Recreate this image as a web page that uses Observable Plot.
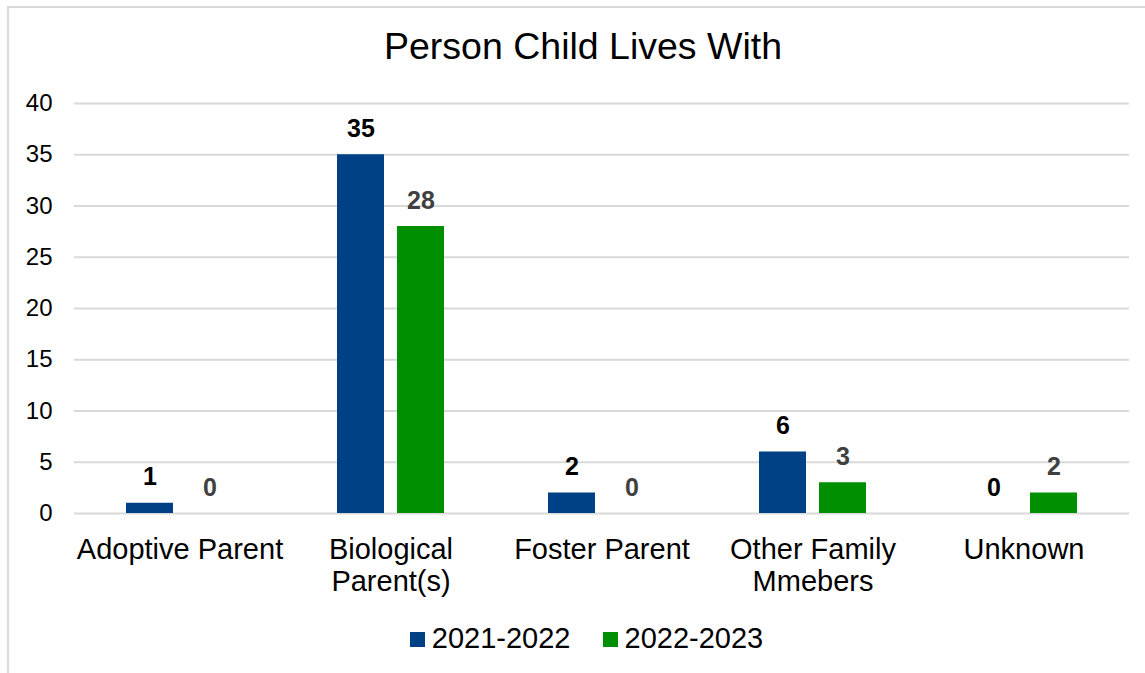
<!DOCTYPE html>
<html>
<head>
<meta charset="utf-8">
<script src="https://cdn.jsdelivr.net/npm/d3@7"></script>
<script src="https://cdn.jsdelivr.net/npm/@observablehq/plot@0.6"></script>
<style>
  html, body { margin: 0; padding: 0; background: #fff; }
  body { width: 1145px; height: 673px; position: relative; overflow: hidden; font-family: "Liberation Sans", Arial, sans-serif; }
  #frame { position: absolute; left: 7px; top: 6px; width: 1160px; height: 700px; border: 2px solid #D9D9D9; box-sizing: border-box; }
  #title { position: absolute; left: 0; width: 1166px; top: 26px; text-align: center; font-size: 37.5px; line-height: 40px; color: #000; }
  #chart { position: absolute; left: 0; top: 0; }
  #legend { position: absolute; left: 0; width: 1173px; top: 622px; display: flex; justify-content: center; gap: 32px; font-size: 29px; line-height: 32px; color: #000; }
  .item { display: flex; align-items: center; gap: 7px; }
  .sw { width: 15px; height: 15px; display: inline-block; margin-top: 2px; }
</style>
</head>
<body>
<div id="frame"></div>
<div id="title">Person Child Lives With</div>
<div id="chart"></div>
<div id="legend"></div>
<script>
const categories = ["Adoptive Parent", "Biological Parent(s)", "Foster Parent", "Other Family Mmebers", "Unknown"];
const categoryLabels = ["Adoptive Parent", "Biological\nParent(s)", "Foster Parent", "Other Family\nMmebers", "Unknown"];
const seriesNames = ["2021-2022", "2022-2023"];
const values2021 = [1, 35, 2, 6, 0];
const values2022 = [0, 28, 0, 3, 2];
const barColors = ["#004185", "#008F00"];
const labelColors = ["#000000", "#404040"];
const yTicks = [0, 5, 10, 15, 20, 25, 30, 35, 40];

const seriesValues = [values2021, values2022];
const data = [];
categories.forEach((c, i) => {
  seriesNames.forEach((s, j) => data.push({category: c, series: s, value: seriesValues[j][i]}));
});
const labelOf = new Map(categories.map((c, i) => [c, categoryLabels[i]]));

const marks = [
  Plot.gridY(yTicks, {stroke: "#D9D9D9", strokeOpacity: 1, strokeWidth: 2}),
  Plot.axisY(yTicks, {tickSize: 0, tickPadding: 22, fontSize: 24, fill: "#000", label: null}),
  Plot.axisFx({anchor: "bottom", tickSize: 0, tickPadding: 23, fontSize: 29, lineHeight: 1.103, fill: "#000", label: null, tickFormat: d => labelOf.get(d)})
];
seriesNames.forEach((s, j) => {
  const sub = data.filter(d => d.series === s);
  marks.push(Plot.barY(sub, {fx: "category", x: "series", y: "value", fill: barColors[j]}));
  marks.push(Plot.text(sub, {fx: "category", x: "series", y: "value", text: d => String(d.value), lineAnchor: "bottom", dy: -18, fontSize: 25, fontWeight: "bold", fill: labelColors[j]}));
});

const chart = Plot.plot({
  width: 1145,
  height: 620,
  marginTop: 103,
  marginBottom: 107,
  marginLeft: 72,
  marginRight: 15,
  style: {fontFamily: "'Liberation Sans', Arial, sans-serif", background: "transparent", overflow: "visible"},
  fx: {domain: categories, padding: 0, label: null},
  x: {domain: seriesNames, paddingInner: 0.22, paddingOuter: 0.86, axis: null},
  y: {domain: [0, 40], axis: null},
  marks
});
document.getElementById("chart").appendChild(chart);

const legend = document.getElementById("legend");
seriesNames.forEach((s, j) => {
  const item = document.createElement("div");
  item.className = "item";
  const sw = document.createElement("span");
  sw.className = "sw";
  sw.style.background = barColors[j];
  const t = document.createElement("span");
  t.textContent = s;
  item.appendChild(sw);
  item.appendChild(t);
  legend.appendChild(item);
});
</script>
</body>
</html>
